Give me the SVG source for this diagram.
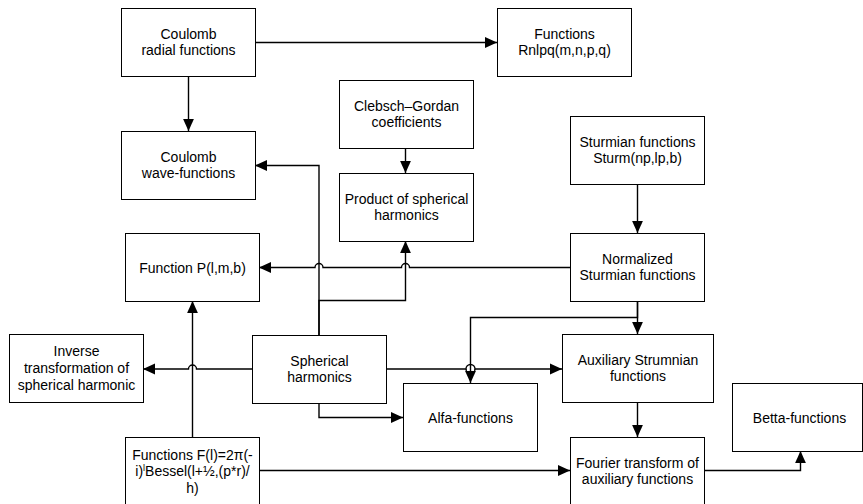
<svg xmlns="http://www.w3.org/2000/svg" width="863" height="504" viewBox="0 0 863 504">
<style>
.box rect{fill:#fff;stroke:#000;stroke-width:1}
.box text{font-family:"Liberation Sans",Arial,sans-serif;font-size:14px;fill:#000;text-anchor:middle}
#connectors path{fill:none;stroke:#000;stroke-width:1.4}
</style>
<defs>
<marker id="arr" markerUnits="userSpaceOnUse" markerWidth="12" markerHeight="12" viewBox="0 0 10 10" refX="10" refY="5" orient="auto">
<path d="M0,0.5 L10,5 L0,9.5 z" fill="#000" stroke="none"/>
</marker>
</defs>
<g id="connectors">
<path d="M255,42.5 H497" marker-end="url(#arr)"/>
<path d="M188.5,76 V131" marker-end="url(#arr)"/>
<path d="M405.5,148 V173" marker-end="url(#arr)"/>
<path d="M637.5,184 V233" marker-end="url(#arr)"/>
<path d="M637.5,301 V334" marker-end="url(#arr)"/>
<path d="M637.5,301 V317.5 H470.5 V383" marker-end="url(#arr)"/>
<path d="M570,267.5 H409.5 a4,4 0 0 0 -8,0 H323 a4,4 0 0 0 -8,0 H259" marker-end="url(#arr)"/>
<path d="M319,335 V165.5 H255" marker-end="url(#arr)"/>
<path d="M319,335 V300.5 H405.5 V241" marker-end="url(#arr)"/>
<path d="M252,369 H196.5 a4,4 0 0 0 -8,0 H143" marker-end="url(#arr)"/>
<path d="M192.5,437 V301" marker-end="url(#arr)"/>
<path d="M386,369 H466 a4.5,4.5 0 0 1 9,0 H562" marker-end="url(#arr)"/>
<path d="M466,369 a4.5,4.5 0 0 0 9,0"/>
<path d="M319,403 V417.5 H403" marker-end="url(#arr)"/>
<path d="M259,470.5 H570" marker-end="url(#arr)"/>
<path d="M637.5,403 V437" marker-end="url(#arr)"/>
<path d="M704,470.5 H800.5 V451" marker-end="url(#arr)"/>
</g>
<g id="coulomb-radial" class="box"><rect x="121.5" y="8.5" width="134" height="68"/><text x="188.5" y="38.5">Coulomb</text><text x="188.5" y="55.3">radial functions</text></g>
<g id="rnlpq" class="box"><rect x="497.5" y="8.5" width="134" height="68"/><text x="564.5" y="38.5">Functions</text><text x="564.5" y="55.3">Rnlpq(m,n,p,q)</text></g>
<g id="coulomb-wave" class="box"><rect x="121.5" y="131.5" width="134" height="68"/><text x="188.5" y="161.5">Coulomb</text><text x="188.5" y="178.3">wave-functions</text></g>
<g id="clebsch" class="box"><rect x="339.5" y="80.5" width="134" height="68"/><text x="406.5" y="110.5">Clebsch–Gordan</text><text x="406.5" y="127.3">coefficients</text></g>
<g id="product" class="box"><rect x="339.5" y="173.5" width="134" height="68"/><text x="406.5" y="203.5">Product of spherical</text><text x="406.5" y="220.3">harmonics</text></g>
<g id="sturmian" class="box"><rect x="570.5" y="116.5" width="134" height="68"/><text x="637.5" y="146.5">Sturmian functions</text><text x="637.5" y="163.3">Sturm(np,lp,b)</text></g>
<g id="normalized" class="box"><rect x="570.5" y="233.5" width="134" height="68"/><text x="637.5" y="263.5">Normalized</text><text x="637.5" y="280.3">Sturmian functions</text></g>
<g id="function-p" class="box"><rect x="125.5" y="233.5" width="134" height="68"/><text x="192.5" y="272.5">Function P(l,m,b)</text></g>
<g id="inverse" class="box"><rect x="9.5" y="334.5" width="134" height="68"/><text x="76.5" y="356.2">Inverse</text><text x="76.5" y="373">transformation of</text><text x="76.5" y="389.8">spherical harmonic</text></g>
<g id="spherical" class="box"><rect x="252.5" y="335.5" width="134" height="68"/><text x="319.5" y="365.5">Spherical</text><text x="319.5" y="382.3">harmonics</text></g>
<g id="auxiliary" class="box"><rect x="562.5" y="334.5" width="151" height="68"/><text x="638" y="364.5">Auxiliary Strumnian</text><text x="638" y="381.3">functions</text></g>
<g id="alfa" class="box"><rect x="403.5" y="383.5" width="134" height="68"/><text x="470.5" y="422.5">Alfa-functions</text></g>
<g id="betta" class="box"><rect x="732.5" y="383.5" width="130" height="68"/><text x="799.5" y="422.5">Betta-functions</text></g>
<g id="fourier" class="box"><rect x="570.5" y="437.5" width="134" height="68"/><text x="637.5" y="467.5">Fourier transform of</text><text x="637.5" y="484.3">auxiliary functions</text></g>
<g id="functions-f" class="box"><rect x="125.5" y="437.5" width="134" height="68"/><text x="192.5" y="459.6">Functions F(l)=2π(-</text><text x="192.5" y="476.4">i)<tspan font-size="9px" dy="-5">l</tspan><tspan dy="5">Bessel(l+½,(p*r)/</tspan></text><text x="192.5" y="493.2">h)</text></g>
</svg>
